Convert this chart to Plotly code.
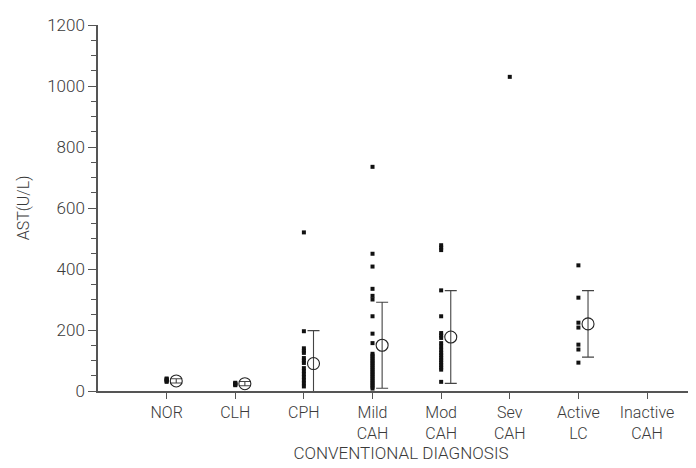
import plotly.graph_objects as go

categories = ["NOR", "CLH", "CPH", "Mild<br>CAH", "Mod<br>CAH", "Sev<br>CAH", "Active<br>LC", "Inactive<br>CAH"]

nor_vals = [30, 33, 36, 39, 41]
clh_vals = [19, 21, 23, 25, 27]
cph_vals = [520, 196, 140, 132, 125, 108, 100, 92, 75, 65, 55, 45, 35, 25, 15]
mild_vals = [735, 450, 408, 335, 312, 300, 245, 188, 157, 122, 116, 110, 104, 98, 92, 86, 80, 74,
             68, 62, 56, 50, 44, 38, 32, 26, 20, 14, 8]
mod_vals = [478, 470, 462, 330, 245, 190, 182, 174, 157, 146, 135, 125, 117, 109, 101, 93, 85, 77, 70, 30]
sev_vals = [1030]
active_vals = [412, 306, 224, 208, 152, 136, 93]
inactive_vals = []

group_values = [nor_vals, clh_vals, cph_vals, mild_vals, mod_vals, sev_vals, active_vals, inactive_vals]

# mean and SD (None = not shown)
means = [33, 24, 90, 150, 177, None, 220, None]
sds = [7, 7, 108, 141, 152, None, 109, None]

font_family = "Roboto"
text_color = "#3a3a3a"
axis_color = "#555555"

fig = go.Figure()

# individual points
xs, ys = [], []
for i, vals in enumerate(group_values):
    for v in vals:
        xs.append(i)
        ys.append(v)
fig.add_trace(go.Scatter(
    x=xs, y=ys, mode="markers",
    marker=dict(symbol="square", size=4, color="#111111", line=dict(width=0)),
    showlegend=False, hoverinfo="y"))

# means with SD error bars
mx, my, me = [], [], []
for i, (m, s) in enumerate(zip(means, sds)):
    if m is None:
        continue
    mx.append(i + 0.14)
    my.append(m)
    me.append(s)
fig.add_trace(go.Scatter(
    x=mx, y=my, mode="markers",
    marker=dict(symbol="circle-open", size=12, color="#222222", line=dict(width=1.1)),
    error_y=dict(type="data", array=me, visible=True, color="#444444", thickness=1.1, width=6),
    showlegend=False, cliponaxis=True))

fig.update_layout(
    width=696, height=468,
    margin=dict(l=90, r=0, t=17, b=85),
    paper_bgcolor="white", plot_bgcolor="white",
    font=dict(family=font_family, size=15, color=text_color, weight=300),
)

fig.update_xaxes(
    range=[-1, 7.83],
    tickmode="array", tickvals=list(range(len(categories))), ticktext=categories,
    ticks="outside", ticklen=6, tickwidth=1, tickcolor=axis_color,
    showline=True, linecolor=axis_color, linewidth=1.5,
    showgrid=False, zeroline=False,
    tickfont=dict(family=font_family, size=16, color=text_color, weight=300),
    title=dict(text="CONVENTIONAL DIAGNOSIS", standoff=4,
               font=dict(family=font_family, size=17, color=text_color, weight=300)),
)

fig.update_yaxes(
    range=[0, 1200],
    tickmode="array", tickvals=[0, 200, 400, 600, 800, 1000, 1200],
    ticks="outside", ticklen=8, tickwidth=1, tickcolor=axis_color,
    minor=dict(dtick=50, ticks="outside", ticklen=5, tickwidth=1, tickcolor=axis_color, showgrid=False),
    showline=True, linecolor=axis_color, linewidth=1.5,
    showgrid=False, zeroline=False,
    tickfont=dict(family=font_family, size=17, color=text_color, weight=300),
    title=dict(text="AST(U/L)", standoff=14,
               font=dict(family=font_family, size=16, color=text_color, weight=300)),
)

fig.write_html("out.html")
